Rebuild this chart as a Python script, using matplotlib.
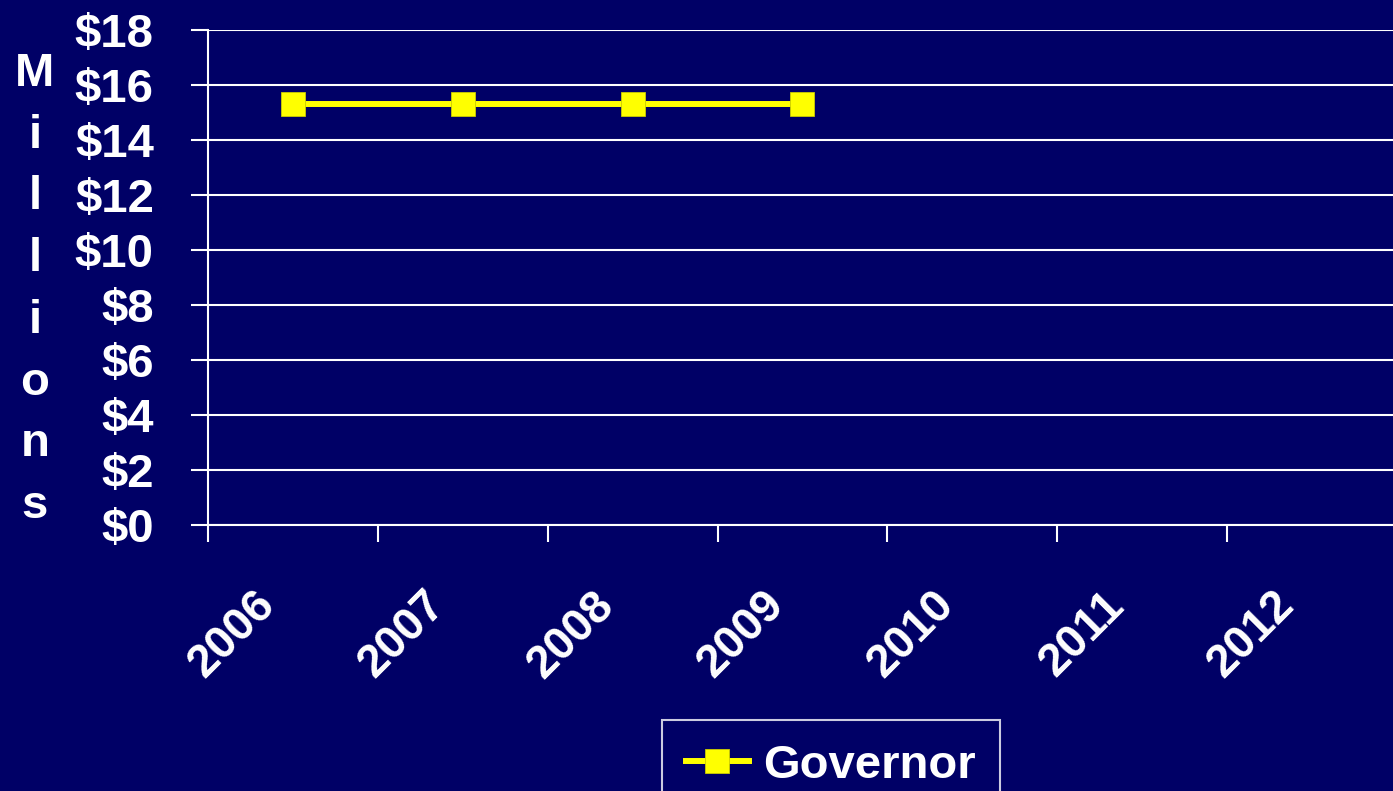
import numpy as np
import matplotlib.pyplot as plt
import matplotlib.transforms as mtransforms
from matplotlib.ticker import FuncFormatter

# данные
years = ['2006', '2007', '2008', '2009', '2010', '2011', '2012']
governor = [15.3, 15.3, 15.3, 15.3]
y_ticks = [0, 2, 4, 6, 8, 10, 12, 14, 16, 18]

navy = '#000066'
yellow = '#ffff00'

plt.rcParams['font.family'] = ['Liberation Sans', 'DejaVu Sans']
plt.rcParams['font.weight'] = 'bold'

W, H = 1393, 791
fig = plt.figure(figsize=(W / 100, H / 100), dpi=100, facecolor=navy)
ax = fig.add_axes([208 / W, (H - 525) / H, 1189 / W, 495 / H], facecolor=navy)

x = np.arange(len(governor))
ax.plot(x, governor, color=yellow, lw=4.3, marker='s', ms=17,
        markeredgecolor='#cccc00', markeredgewidth=0.6, label='Governor',
        clip_on=False, zorder=3)

ax.set_xlim(-0.5, len(years) - 0.5)
ax.set_ylim(0, 18)

# ось y
ax.set_yticks(y_ticks)
ax.yaxis.set_major_formatter(FuncFormatter(lambda v, p: f'${v:.0f}'))
ax.tick_params(axis='y', direction='out', length=12, width=1.5, color='white',
               labelcolor='white', labelsize=34, pad=27)
ax.grid(axis='y', color='white', lw=1.5)

# ось x: засечки между категориями, подписи по центру
ax.set_xticks(np.arange(len(years) + 1) - 0.5)
ax.set_xticklabels([])
ax.tick_params(axis='x', which='major', direction='out', length=12, width=1.5,
               color='white')
ax.set_xticks(np.arange(len(years)), minor=True)
ax.set_xticklabels(years, minor=True, rotation=45, ha='right', va='center',
                   rotation_mode='anchor')
ax.tick_params(axis='x', which='minor', length=0, labelcolor='white',
               labelsize=33, pad=58)
shift = mtransforms.ScaledTranslation(-0.25, 0.07, fig.dpi_scale_trans)
for lab in ax.xaxis.get_minorticklabels():
    lab.set_transform(lab.get_transform() + shift)

for s in ['top', 'right']:
    ax.spines[s].set_visible(False)
for s in ['left', 'bottom']:
    ax.spines[s].set_color('white')
    ax.spines[s].set_linewidth(1.5)

fig.text(35 / W, (H - 290) / H, '\n'.join('Millions'), ha='center',
         va='center', color='white', fontsize=34, linespacing=1.52)

leg = fig.legend(loc='upper left', bbox_to_anchor=(662 / W, (H - 720) / H),
                 frameon=True, fancybox=False, fontsize=34, handlelength=1.35,
                 handletextpad=0.3, borderpad=0.5, borderaxespad=0)
leg.get_frame().set_facecolor(navy)
leg.get_frame().set_edgecolor('white')
leg.get_frame().set_linewidth(1.5)
for t in leg.get_texts():
    t.set_color('white')

fig.savefig('out.png', dpi=100, facecolor=navy)
